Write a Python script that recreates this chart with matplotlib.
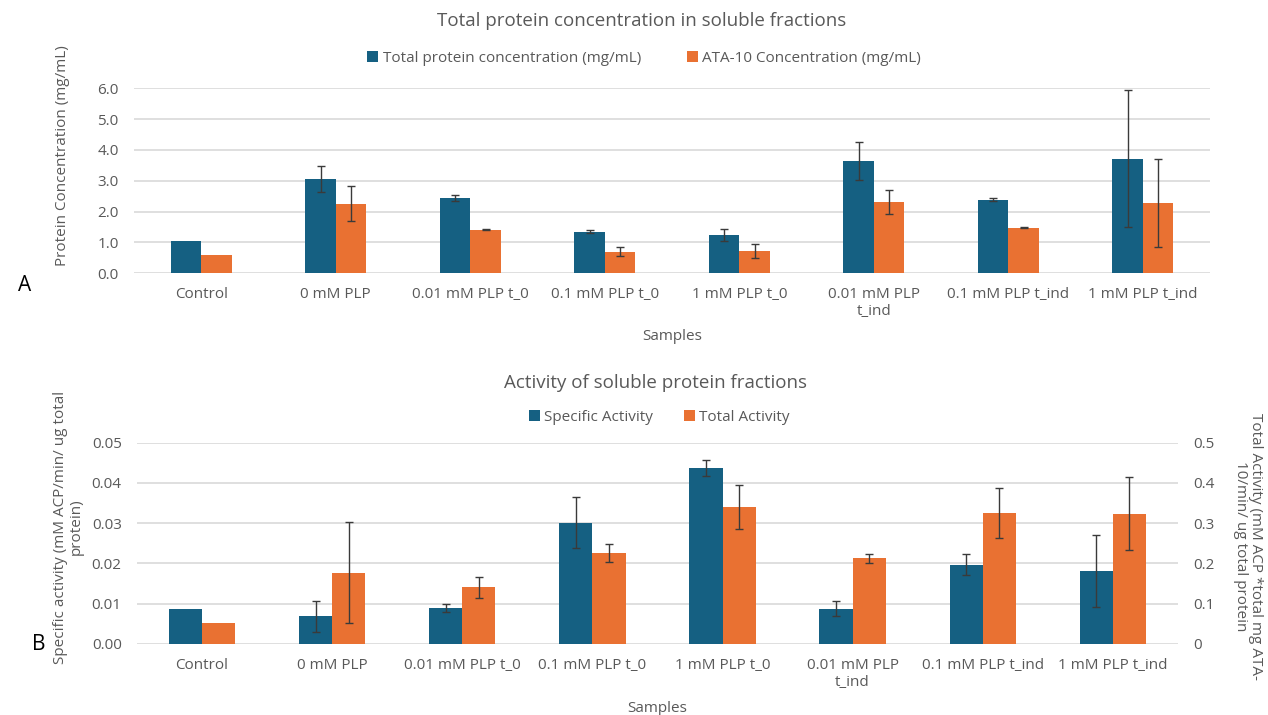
import numpy as np
import matplotlib
matplotlib.use("Agg")
import matplotlib.pyplot as plt

plt.rcParams['font.family'] = ['Open Sans', 'DejaVu Sans']

samples = ["Control", "0 mM PLP", "0.01 mM PLP t_0", "0.1 mM PLP t_0", "1 mM PLP t_0",
           "0.01 mM PLP\nt_ind", "0.1 mM PLP t_ind", "1 mM PLP t_ind"]

# protein concentrations (mg/mL); control has no error bar
total_protein = [1.05, 3.06, 2.43, 1.35, 1.24, 3.63, 2.39, 3.72]
total_protein_err = [np.nan, 0.43, 0.10, 0.05, 0.20, 0.62, 0.05, 2.21]
ata10_conc = [0.58, 2.26, 1.41, 0.70, 0.73, 2.31, 1.48, 2.28]
ata10_conc_err = [np.nan, 0.58, 0.02, 0.15, 0.22, 0.39, 0.02, 1.43]

# activities
specific_act = [0.0086, 0.0068, 0.0090, 0.0301, 0.0436, 0.0087, 0.0197, 0.0181]
specific_act_err = [np.nan, 0.0038, 0.0010, 0.0064, 0.0020, 0.0019, 0.0025, 0.0089]
total_act = [0.051, 0.177, 0.140, 0.226, 0.340, 0.212, 0.325, 0.323]
total_act_err = [np.nan, 0.125, 0.026, 0.022, 0.055, 0.010, 0.063, 0.091]

blue = "#156082"
orange = "#E97132"
grey = "#595959"
grid = "#D9D9D9"

fig = plt.figure(figsize=(12.68, 7.15), dpi=100)
x = np.arange(len(samples))
ekw = dict(ecolor="#3A3A3A", elinewidth=1, capsize=3, capthick=1)


def style(ax):
    for s in ax.spines.values():
        s.set_visible(False)
    ax.tick_params(length=0, colors=grey, labelsize=11)
    ax.tick_params(axis="y", pad=11)
    ax.tick_params(axis="x", pad=10)
    ax.yaxis.grid(True, color=grid, linewidth=1.2)
    ax.set_axisbelow(True)
    ax.set_xlim(-0.5, len(samples) - 0.5)
    ax.set_xticks(x)
    ax.set_xticklabels(samples, color=grey, fontsize=11)


def square_legend(handles, labels, xc, yc, spacing):
    fig.legend(handles, labels, loc="center", bbox_to_anchor=(xc, yc), ncol=2,
               frameon=False, fontsize=11, labelcolor=grey, handlelength=0.7,
               handleheight=0.7, handletextpad=0.3, columnspacing=spacing)


# ---- A: protein concentration ----
ax1 = fig.add_axes([0.1057, 0.6178, 0.8486, 0.2587])
w = 0.227
p1 = ax1.bar(x - w / 2, total_protein, w, color=blue, yerr=total_protein_err, error_kw=ekw)
p2 = ax1.bar(x + w / 2, ata10_conc, w, color=orange, yerr=ata10_conc_err, error_kw=ekw)
style(ax1)
ax1.set_ylim(0, 6.0)
ax1.set_yticks(np.arange(0, 6.01, 1.0))
ax1.set_yticklabels([f"{v:.1f}" for v in np.arange(0, 6.01, 1.0)])
ax1.set_xlabel("Samples", color=grey, fontsize=11, labelpad=7)
fig.text(0.049, 0.782, "Protein Concentration (mg/mL)", rotation=90, color=grey,
         fontsize=11, ha="center", va="center")
fig.text(0.506, 0.970, "Total protein concentration in soluble fractions", color=grey,
         fontsize=13.5, ha="center", va="center")
square_legend([p1, p2], ["Total protein concentration (mg/mL)", "ATA-10 Concentration (mg/mL)"],
              0.508, 0.918, 3)
fig.text(0.014, 0.601, "A", fontsize=15, color="black", va="center")

# ---- B: activity ----
ax2 = fig.add_axes([0.108, 0.0997, 0.821, 0.2811])
ax3 = ax2.twinx()
w = 0.255
b1 = ax2.bar(x - w / 2, specific_act, w, color=blue, yerr=specific_act_err, error_kw=ekw)
b2 = ax3.bar(x + w / 2, total_act, w, color=orange, yerr=total_act_err, error_kw=ekw)
style(ax2)
for s in ax3.spines.values():
    s.set_visible(False)
ax3.tick_params(length=0, colors=grey, labelsize=11, pad=11)
ax2.set_ylim(0, 0.05)
ax2.set_yticks(np.arange(0, 0.0501, 0.01))
ax2.set_yticklabels([f"{v:.2f}" for v in np.arange(0, 0.0501, 0.01)])
ax3.set_ylim(0, 0.5)
ax3.set_yticks(np.arange(0, 0.501, 0.1))
ax3.set_yticklabels(["0"] + [f"{v:.1f}" for v in np.arange(0.1, 0.501, 0.1)])
ax2.set_xlabel("Samples", color=grey, fontsize=11, labelpad=8)
fig.text(0.054, 0.263, "Specific activity (mM ACP/min/ ug total\nprotein)", rotation=90,
         color=grey, fontsize=11, ha="center", va="center", linespacing=1.0)
fig.text(0.984, 0.236, "Total Activity (mM ACP *total mg ATA-\n10/min/ ug total protein",
         rotation=270, color=grey, fontsize=11, ha="center", va="center", linespacing=1.0)
fig.text(0.517, 0.465, "Activity of soluble protein fractions", color=grey,
         fontsize=13.5, ha="center", va="center")
square_legend([b1, b2], ["Specific Activity", "Total Activity"], 0.52, 0.416, 2)
fig.text(0.025, 0.098, "B", fontsize=15, color="black", va="center")

fig.savefig("out.png", dpi=100)
